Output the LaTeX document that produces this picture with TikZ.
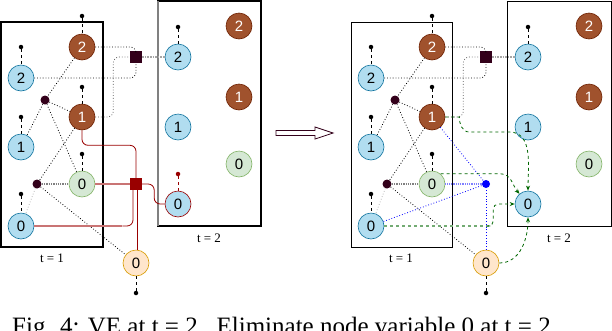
\documentclass[tikz,border=0pt]{standalone}
\usepackage{fontspec}
\newfontfamily\varfont{Liberation Sans}
\newfontfamily\slicefont{Liberation Serif}
\usepackage{tikz}
\usetikzlibrary{arrows.meta, positioning}

\definecolor{varblue}{HTML}{B1DDF0}
\definecolor{varblueline}{HTML}{10739E}
\definecolor{varbrown}{HTML}{A0522D}
\definecolor{varbrownline}{HTML}{6D1F00}
\definecolor{vargreen}{HTML}{D5E8D4}
\definecolor{vargreenline}{HTML}{82B366}
\definecolor{varorange}{HTML}{FFE6CC}
\definecolor{varorangeline}{HTML}{D79B00}
\definecolor{factordark}{HTML}{33001A}
\definecolor{elimred}{HTML}{990000}
\definecolor{elimpink}{HTML}{C97474}
\definecolor{msggreen}{HTML}{006600}

\begin{document}
\begin{tikzpicture}[x=1pt, y=-1pt,
  var/.style={circle, draw, line width=0.6pt, minimum size=26pt, inner sep=0pt, font=\varfont\fontsize{15}{15}\selectfont},
  bluevar/.style={var, fill=varblue, draw=varblueline},
  brownvar/.style={var, fill=varbrown, draw=varbrownline, text=white},
  greenvar/.style={var, fill=vargreen, draw=vargreenline},
  orangevar/.style={var, fill=varorange, draw=varorangeline},
  factor/.style={circle, fill=factordark, minimum size=9pt, inner sep=0pt},
  sqfactor/.style={rectangle, fill=factordark, minimum size=12pt, inner sep=0pt},
  tipdot/.style={circle, fill=black, minimum size=4.5pt, inner sep=0pt},
  stub/.style={dashed, line width=0.8pt},
  link/.style={dotted, line width=0.8pt},
  graylink/.style={densely dotted, gray, line width=1.3pt},
  palelink/.style={dotted, gray!60, line width=0.8pt},
  sqlink/.style={link, rounded corners=6pt},
  elim/.style={elimred, line width=0.8pt, rounded corners=6pt},
  elimwide/.style={elimpink, line width=2pt},
  newlink/.style={dotted, blue, line width=0.8pt},
  msg/.style={-{Stealth[length=5pt, width=4pt]}, dashed, msggreen, line width=0.8pt},
  msgwide/.style={dashed, msggreen!55, line width=1.8pt},
  slice/.style={font=\slicefont\fontsize{13}{13}\selectfont}
]

\useasboundingbox (0,0) rectangle (612,330);
\clip (0,0) rectangle (612,330);

% ---- left: factor graph before elimination ----
\draw[line width=2pt] (1,22) rectangle (103,247);
\draw[line width=1.2pt] (158,1) rectangle (261,226);
\draw[gray, line width=2pt] (158,1) -- (158,226);

\node[bluevar]   (Lb2) at (21,78)   {2};
\node[brownvar]  (Ln2) at (82,47)   {2};
\node[bluevar]   (Lb1) at (21,147)  {1};
\node[brownvar]  (Ln1) at (82,117)  {1};
\node[greenvar]  (Lg0) at (82,184)  {0};
\node[bluevar]   (Lb0) at (21,226)  {0};
\node[orangevar] (Lo0) at (136,263) {0};

\node[brownvar]  (Lm2) at (239,26)  {2};
\node[bluevar]   (Lc2) at (178,57)  {2};
\node[brownvar]  (Lm1) at (239,97)  {1};
\node[bluevar]   (Lc1) at (178,127) {1};
\node[greenvar]  (Lh0) at (239,164) {0};
\node[bluevar, draw=elimred] (Lc0) at (178,204) {0};

\node[factor]    (Lf1) at (45,100)  {};
\node[factor]    (Lf2) at (37,184)  {};
\node[sqfactor]  (Lsq) at (136,57)  {};
\node[sqfactor, fill=elimred] (Lred) at (136,184) {};

\node[tipdot] (Lt1) at (82,16)   {};
\node[tipdot] (Lt2) at (21,47)   {};
\node[tipdot] (Lt3) at (82,87)   {};
\node[tipdot] (Lt4) at (21,117)  {};
\node[tipdot] (Lt5) at (82,154)  {};
\node[tipdot] (Lt6) at (21,194)  {};
\node[tipdot] (Lt7) at (136,293) {};
\node[tipdot] (Lt8) at (178,27)  {};
\node[tipdot, fill=elimred] (Lt9) at (178,174) {};

\node[slice] (Lslice1) at (52,258)  {t = 1};
\node[slice] (Lslice2) at (209,238) {t = 2};

\draw[stub] (Lt1) -- (Ln2);
\draw[stub] (Lt2) -- (Lb2);
\draw[stub] (Lt3) -- (Ln1);
\draw[stub] (Lt4) -- (Lb1);
\draw[stub] (Lt5) -- (Lg0);
\draw[stub] (Lt6) -- (Lb0);
\draw[stub] (Lt7) -- (Lo0);
\draw[stub] (Lt8) -- (Lc2);
\draw[stub, elimred] (Lt9) -- (Lc0);

\draw[link] (Ln2) -- (Lf1);
\draw[link] (Lf1) -- (Ln1);
\draw[link] (Lf1) -- (Lb1);
\draw[link] (Lf1) -- (Lg0);
\draw[link] (Ln1) -- (Lf2);
\draw[graylink] (Lf2) -- (Lg0);
\draw[palelink] (Lf2) -- (Lb0);
\draw[link] (Lf2) -- (Lo0);

\draw[sqlink] (Ln2.east) -| (Lsq.north);
\draw[sqlink] (Lb2.east) -| (Lsq.south);
\draw[sqlink, black!65] (Ln1.east) -- ++(18,0) |- (Lsq.west);
\draw[graylink, gray!70, line width=1.6pt] (Lsq) -- (Lc2);

\draw[elim] (Ln1.south) -- ++(0,15) -| (Lred.north);
\draw[elimwide] (Lg0) -- (Lred);
\draw[elimwide] (Lb0.east) -- ++(88,0) coordinate (Ljoin);
\draw[elim] (Ljoin) -| ([xshift=-3pt]Lred.south);
\draw[elim] ([xshift=1pt]Lred.south) -- ([xshift=1pt]Lo0.north);
\draw[elim] (Lred.east) -- ++(12,0) |- (Lc0.west);

% ---- middle arrow ----
\draw[fill=white, draw=factordark, line width=0.8pt] (276,130.5) -- (315,130.5) -- (315,127) -- (333,133) -- (315,139) -- (315,135.5) -- (276,135.5) -- cycle;

% ---- right: after elimination ----
\draw[line width=1pt] (351,22) rectangle (452,247);
\draw[line width=1pt] (507,1) rectangle (611,226);

\node[bluevar]   (Rb2) at (371,78)  {2};
\node[brownvar]  (Rn2) at (432,47)  {2};
\node[bluevar]   (Rb1) at (371,147) {1};
\node[brownvar]  (Rn1) at (432,117) {1};
\node[greenvar]  (Rg0) at (432,184) {0};
\node[bluevar]   (Rb0) at (371,226) {0};
\node[orangevar] (Ro0) at (486,263) {0};

\node[brownvar]  (Rm2) at (589,26)  {2};
\node[bluevar]   (Rc2) at (528,57)  {2};
\node[brownvar]  (Rm1) at (589,97)  {1};
\node[bluevar]   (Rc1) at (528,127) {1};
\node[greenvar]  (Rh0) at (589,164) {0};
\node[bluevar]   (Rc0) at (528,204) {0};

\node[factor]    (Rf1) at (395,100) {};
\node[factor]    (Rf2) at (387,184) {};
\node[sqfactor]  (Rsq) at (486,57)  {};
\node[circle, fill=blue, minimum size=8pt, inner sep=0pt] (Rnew) at (486,184) {};

\node[tipdot] (Rt1) at (432,16)  {};
\node[tipdot] (Rt2) at (371,47)  {};
\node[tipdot] (Rt3) at (432,87)  {};
\node[tipdot] (Rt4) at (371,117) {};
\node[tipdot] (Rt5) at (432,154) {};
\node[tipdot] (Rt6) at (371,194) {};
\node[tipdot] (Rt7) at (486,293) {};
\node[tipdot] (Rt8) at (528,27)  {};

\node[slice] (Rslice1) at (401,258) {t = 1};
\node[slice] (Rslice2) at (559,238) {t = 2};

\draw[stub] (Rt1) -- (Rn2);
\draw[stub] (Rt2) -- (Rb2);
\draw[stub] (Rt3) -- (Rn1);
\draw[stub] (Rt4) -- (Rb1);
\draw[stub] (Rt5) -- (Rg0);
\draw[stub] (Rt6) -- (Rb0);
\draw[stub] (Rt7) -- (Ro0);
\draw[stub] (Rt8) -- (Rc2);

\draw[link] (Rn2) -- (Rf1);
\draw[link] (Rf1) -- (Rn1);
\draw[link] (Rf1) -- (Rb1);
\draw[link] (Rf1) -- (Rg0);
\draw[link] (Rn1) -- (Rf2);
\draw[graylink] (Rf2) -- (Rg0);
\draw[palelink] (Rf2) -- (Rb0);
\draw[link] (Rf2) -- (Ro0);

\draw[sqlink] (Rn2.east) -| (Rsq.north);
\draw[sqlink] (Rb2.east) -| (Rsq.south);
\draw[sqlink, black!65] (Rn1.east) -- ++(18,0) |- (Rsq.west);
\draw[graylink, gray!70, line width=1.6pt] (Rsq) -- (Rc2);

\draw[newlink] (Rn1) -- (Rnew);
\draw[newlink, densely dotted, blue!50, line width=1.5pt] (Rg0) -- (Rnew);
\draw[newlink] (Rb0) -- (Rnew);
\draw[newlink] (Ro0) -- (Rnew);

\draw[msg] (Rn1.east) -- ++(14,0) to[out=-90, in=180] ++(10,15) -- ++(40,0) to[out=0, in=90] (Rc0.north);
\draw[msg] (Rg0.50) -- ++(60,0) to[out=0, in=130] (Rc0.130);
\draw[msgwide] (Rb0.east) -- ++(106,0) coordinate (Rjoin);
\draw[msg, rounded corners=5pt] (Rjoin) -- ++(3,0) |- (Rc0.west);
\draw[msg] (Ro0.east) to[out=0, in=-90] (Rc0.south);

% ---- caption (cut by the frame) ----
\node[anchor=base west, inner sep=0pt, font=\slicefont\fontsize{25}{25}\selectfont] (caption) at (12,334) {Fig. 4: VE at t = 2.\ \ Eliminate node variable 0 at t = 2.};

\end{tikzpicture}
\end{document}
